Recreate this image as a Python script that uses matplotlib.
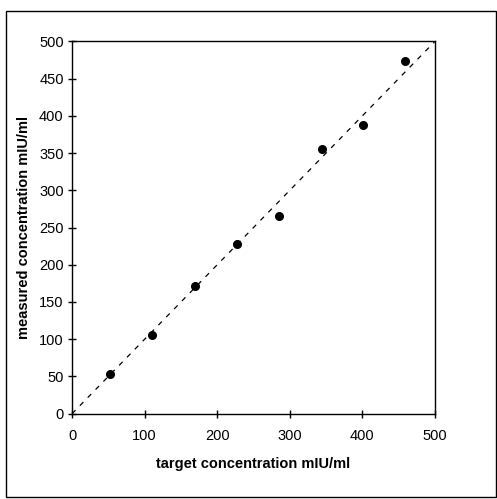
import matplotlib
matplotlib.use("Agg")
import matplotlib.pyplot as plt
from matplotlib.patches import Rectangle

# values
target = [52, 110, 169, 227, 285, 344, 401, 459]
measured = [54, 106, 172, 228, 266, 355, 388, 474]
ticks = [0, 100, 200, 300, 400, 500]
yticks = [0, 50, 100, 150, 200, 250, 300, 350, 400, 450, 500]

plt.rcParams['font.family'] = ['Liberation Sans', 'DejaVu Sans']

fig = plt.figure(figsize=(4.97, 4.99), dpi=100)
ax = fig.add_axes([0.1449, 0.1709, 0.7304, 0.7463])

ax.plot([0, 500], [0, 500], color='black', linestyle=(0, (4, 5)), linewidth=0.9)
ax.plot(target, measured, 'o', color='black', markersize=5.5)

ax.set_xlim(0, 500)
ax.set_ylim(0, 500)
ax.set_xticks(ticks)
ax.set_yticks(yticks)
ax.tick_params(direction='inout', length=6, width=1, labelsize=10.5)
ax.tick_params(axis='x', pad=8)
ax.tick_params(axis='y', pad=3)

for s in ax.spines.values():
    s.set_linewidth(1)

ax.set_xlabel('target concentration mIU/ml', fontsize=10.5, fontweight='bold', labelpad=10)
ax.set_ylabel('measured concentration mIU/ml', fontsize=10.5, fontweight='bold', labelpad=6)

fig.patches.append(Rectangle((6 / 497, 2 / 499), 490 / 497, 486 / 499,
                             transform=fig.transFigure, fill=False,
                             edgecolor='black', linewidth=1))

fig.savefig('out.png', dpi=100)
